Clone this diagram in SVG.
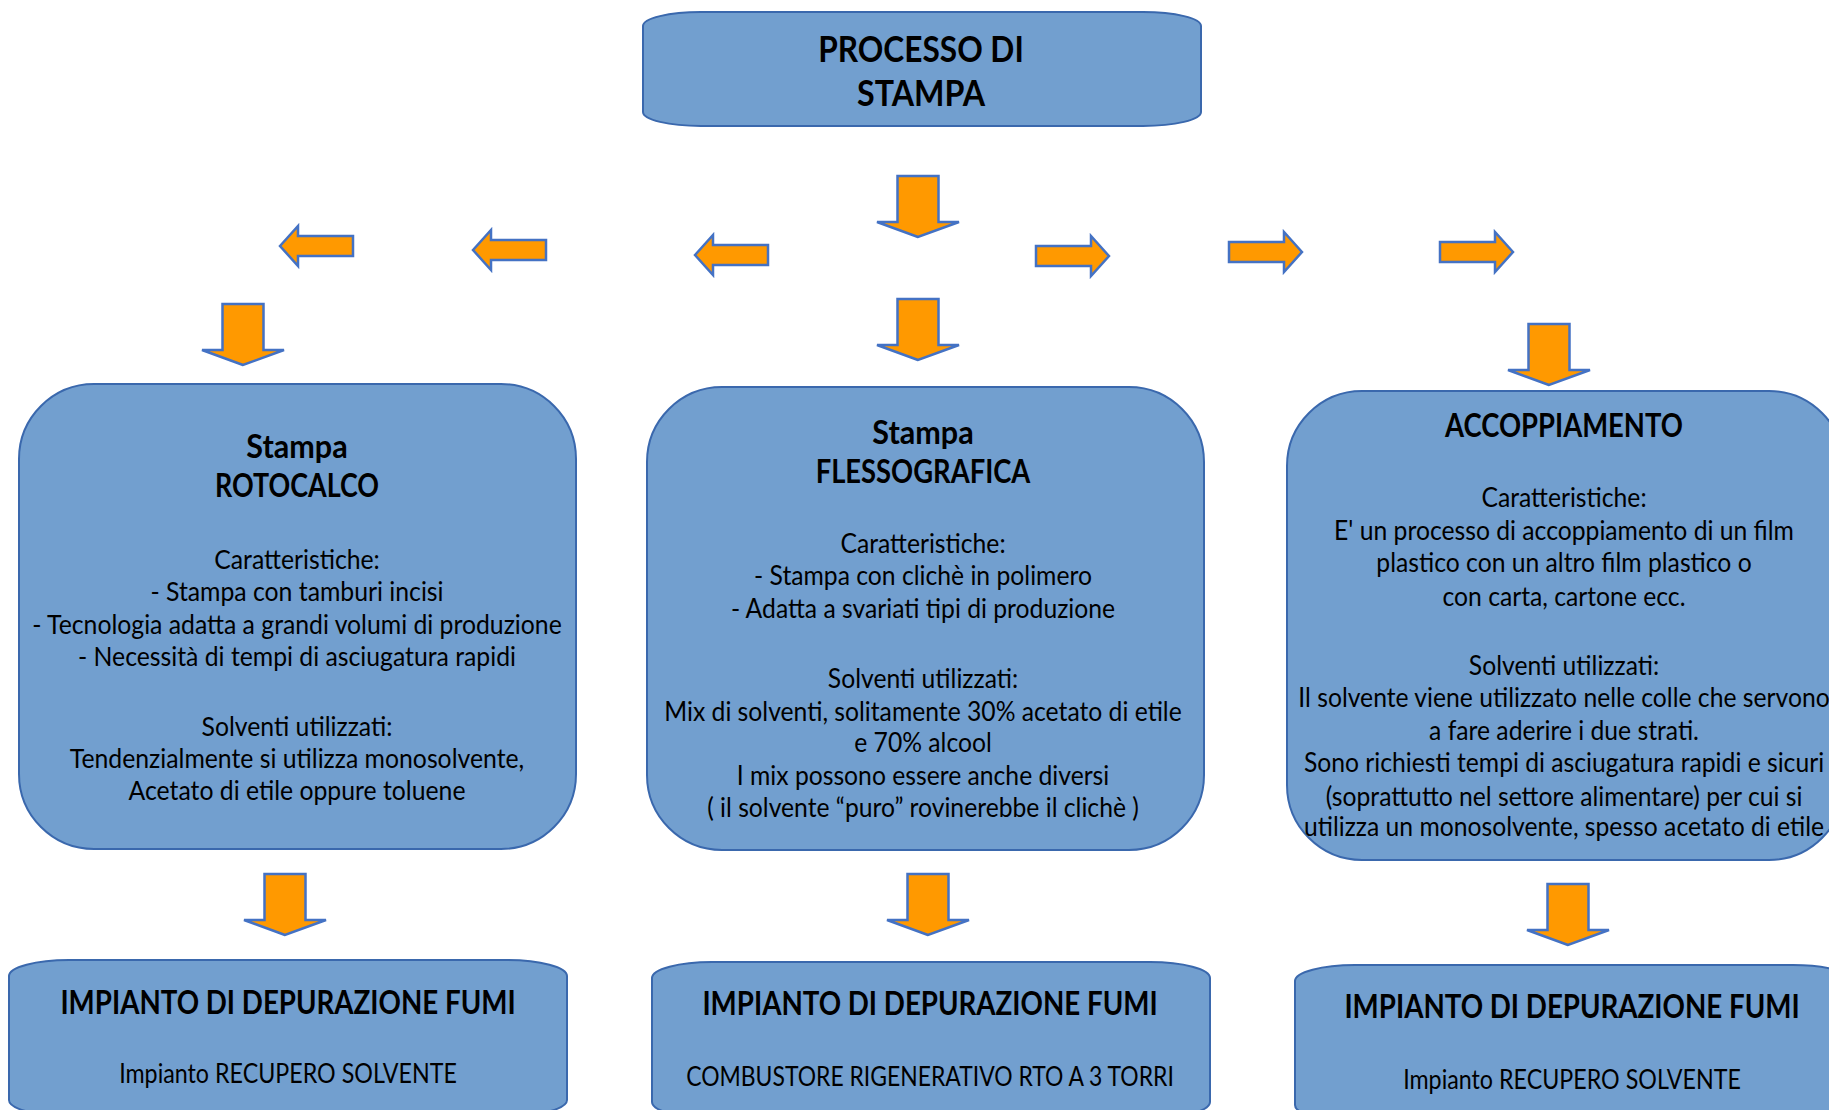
<svg xmlns="http://www.w3.org/2000/svg" width="1829" height="1110" viewBox="0 0 1829 1110">
<style>
.box{fill:#729fcf;stroke:#3a68ad;stroke-width:2}
.arr{fill:#ff9900;stroke:#4472c4;stroke-width:2.5;stroke-linejoin:miter}
text{font-family:Lato,"Liberation Sans",sans-serif;fill:#000;text-anchor:middle}
.h{font-weight:bold;font-size:32px}
.ht{font-weight:bold;font-size:37px}
.r{font-size:26.5px}
</style>
<defs>
<path id="la" d="M0,0 L18,-20 V-10 H73 V10 H18 V20 Z"/>
<path id="ra" d="M0,0 L-18,-20 V-10 H-73 V10 H-18 V20 Z"/>
<path id="da" d="M0,0 L-41,-15 H-20.5 V-61 H20.5 V-15 H41 Z"/>
</defs>
<rect width="1829" height="1110" fill="#fff"/>

<g id="connectors">
<use href="#da" class="arr" x="918" y="237"/>
<use href="#la" class="arr" x="280" y="246"/>
<use href="#la" class="arr" x="473" y="250"/>
<use href="#la" class="arr" x="695" y="255"/>
<use href="#ra" class="arr" x="1109" y="256"/>
<use href="#ra" class="arr" x="1302" y="252"/>
<use href="#ra" class="arr" x="1513" y="252"/>
<use href="#da" class="arr" x="243" y="365"/>
<use href="#da" class="arr" x="918" y="360"/>
<use href="#da" class="arr" x="1549" y="385"/>
<use href="#da" class="arr" x="285" y="935"/>
<use href="#da" class="arr" x="928" y="935"/>
<use href="#da" class="arr" x="1568" y="945"/>
</g>

<g id="processo">
<rect class="box" x="643" y="12" width="558" height="114" rx="58" ry="14"/>
<text class="ht" transform="translate(921 0) scale(0.855 1)" x="0" y="62">PROCESSO DI</text>
<text class="ht" transform="translate(921 0) scale(0.87 1)" x="0" y="106">STAMPA</text>
</g>

<g id="rotocalco">
<rect class="box" x="19" y="384" width="557" height="465" rx="75" ry="75"/>
<text class="h" transform="translate(297 0) scale(0.955 1)" x="0" y="458">Stampa</text>
<text class="h" transform="translate(297 0) scale(0.84 1)" x="0" y="497">ROTOCALCO</text>
<g transform="translate(297 0) scale(0.935 1)">
<text class="r" x="0" y="569">Caratteristiche:</text>
<text class="r" x="0" y="601">- Stampa con tamburi incisi</text>
<text class="r" x="0" y="634">- Tecnologia adatta a grandi volumi di produzione</text>
<text class="r" x="0" y="666">- Necessità di tempi di asciugatura rapidi</text>
<text class="r" x="0" y="736">Solventi utilizzati:</text>
<text class="r" x="0" y="768">Tendenzialmente si utilizza monosolvente,</text>
<text class="r" x="0" y="800">Acetato di etile oppure toluene</text>
</g>
</g>

<g id="flessografica">
<rect class="box" x="647" y="387" width="557" height="463" rx="75" ry="75"/>
<text class="h" transform="translate(923 0) scale(0.955 1)" x="0" y="444">Stampa</text>
<text class="h" transform="translate(923 0) scale(0.855 1)" x="0" y="483">FLESSOGRAFICA</text>
<g transform="translate(923 0) scale(0.932 1)">
<text class="r" x="0" y="553">Caratteristiche:</text>
<text class="r" x="0" y="585">- Stampa con clichè in polimero</text>
<text class="r" x="0" y="618">- Adatta a svariati tipi di produzione</text>
<text class="r" x="0" y="688">Solventi utilizzati:</text>
<text class="r" x="0" y="721">Mix di solventi, solitamente 30% acetato di etile</text>
<text class="r" x="0" y="752">e 70% alcool</text>
<text class="r" x="0" y="785">I mix possono essere anche diversi</text>
<text class="r" x="0" y="817">( il solvente “puro” rovinerebbe il clichè )</text>
</g>
</g>

<g id="accoppiamento">
<rect class="box" x="1287" y="391" width="557" height="469" rx="75" ry="75"/>
<text class="h" transform="translate(1564 0) scale(0.857 1)" x="0" y="437">ACCOPPIAMENTO</text>
<g transform="translate(1564 0) scale(0.932 1)">
<text class="r" x="0" y="507">Caratteristiche:</text>
<text class="r" x="0" y="540">E' un processo di accoppiamento di un film</text>
<text class="r" x="0" y="572">plastico con un altro film plastico o</text>
<text class="r" x="0" y="606">con carta, cartone ecc.</text>
<text class="r" x="0" y="675">Solventi utilizzati:</text>
<text class="r" x="0" y="707">Il solvente viene utilizzato nelle colle che servono</text>
<text class="r" x="0" y="740">a fare aderire i due strati.</text>
<text class="r" x="0" y="772">Sono richiesti tempi di asciugatura rapidi e sicuri</text>
<text class="r" x="0" y="806">(soprattutto nel settore alimentare) per cui si</text>
<text class="r" x="0" y="836">utilizza un monosolvente, spesso acetato di etile</text>
</g>
</g>

<g id="depurazione1">
<rect class="box" x="9" y="960" width="558" height="156" rx="60" ry="16"/>
<text class="h" transform="translate(288 0) scale(0.866 1)" x="0" y="1014">IMPIANTO DI DEPURAZIONE FUMI</text>
<text class="r" transform="translate(288 0) scale(0.878 1)" x="0" y="1083">Impianto RECUPERO SOLVENTE</text>
</g>

<g id="depurazione2">
<rect class="box" x="652" y="962" width="558" height="156" rx="60" ry="16"/>
<text class="h" transform="translate(930 0) scale(0.866 1)" x="0" y="1015">IMPIANTO DI DEPURAZIONE FUMI</text>
<text class="r" transform="translate(930 0) scale(0.865 1)" x="0" y="1086">COMBUSTORE RIGENERATIVO RTO A 3 TORRI</text>
</g>

<g id="depurazione3">
<rect class="box" x="1295" y="965" width="558" height="156" rx="60" ry="16"/>
<text class="h" transform="translate(1572 0) scale(0.866 1)" x="0" y="1018">IMPIANTO DI DEPURAZIONE FUMI</text>
<text class="r" transform="translate(1572 0) scale(0.878 1)" x="0" y="1089">Impianto RECUPERO SOLVENTE</text>
</g>
</svg>
